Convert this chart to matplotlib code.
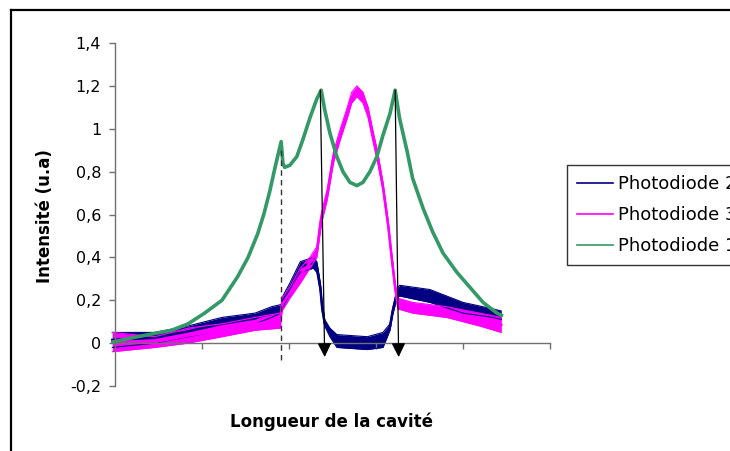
import numpy as np
import matplotlib
matplotlib.use("Agg")
import matplotlib.pyplot as plt
from matplotlib.lines import Line2D

plt.rcParams["font.family"] = ["DejaVu Sans"]

# Photodiode 1 (green) - thin trace, center values
pd1_x = [-3, 26, 65, 84, 103, 123, 141, 153, 164, 171, 178, 184, 191, 193, 195, 201,
         209, 216, 224, 232, 237, 241, 247, 255, 262, 270, 278, 285, 293, 301, 308,
         316, 322, 327, 336, 342, 354, 365, 377, 393, 408, 423, 439, 444]
pd1_y = [0.005, 0.03, 0.06, 0.09, 0.14, 0.20, 0.31, 0.40, 0.51, 0.60, 0.71, 0.82, 0.94,
         0.84, 0.82, 0.83, 0.87, 0.95, 1.05, 1.14, 1.18, 1.09, 0.98, 0.87, 0.80, 0.75,
         0.735, 0.75, 0.80, 0.87, 0.97, 1.07, 1.18, 1.05, 0.89, 0.77, 0.63, 0.52, 0.42,
         0.33, 0.26, 0.19, 0.14, 0.13]

# Photodiode 2 (navy) - noisy band, low / high envelope
pd2_x = [-3, 46, 84, 123, 161, 180, 191, 193, 201, 213, 228, 232, 236, 238, 241, 247,
         255, 290, 308, 316, 319, 324, 327, 362, 400, 434, 444]
pd2_lo = [-0.02, 0.0, 0.03, 0.06, 0.09, 0.12, 0.14, 0.17, 0.23, 0.33, 0.35, 0.33, 0.24,
          0.15, 0.08, 0.03, -0.02, -0.03, -0.02, 0.06, 0.13, 0.21, 0.22, 0.19, 0.14, 0.12, 0.11]
pd2_hi = [0.05, 0.05, 0.08, 0.12, 0.14, 0.17, 0.18, 0.22, 0.28, 0.38, 0.40, 0.38, 0.28,
          0.19, 0.11, 0.07, 0.04, 0.03, 0.05, 0.09, 0.16, 0.25, 0.27, 0.25, 0.19, 0.16, 0.15]

# Photodiode 3 (magenta) - noisy band, low / high envelope
pd3_x = [-3, 46, 84, 123, 161, 190, 192, 201, 213, 224, 232, 236, 238, 244, 251, 259,
         267, 272, 278, 285, 291, 296, 302, 308, 314, 318, 322, 325, 342, 381, 419, 444]
pd3_lo = [-0.04, -0.02, 0.0, 0.03, 0.06, 0.07, 0.15, 0.21, 0.28, 0.35, 0.40, 0.52, 0.57,
          0.67, 0.84, 0.95, 1.05, 1.12, 1.15, 1.12, 1.05, 0.95, 0.84, 0.71, 0.53, 0.38,
          0.24, 0.16, 0.14, 0.12, 0.08, 0.05]
pd3_hi = [0.05, 0.03, 0.07, 0.09, 0.12, 0.14, 0.21, 0.26, 0.35, 0.40, 0.45, 0.58, 0.62,
          0.72, 0.89, 1.00, 1.10, 1.17, 1.20, 1.17, 1.10, 1.00, 0.89, 0.75, 0.57, 0.42,
          0.28, 0.21, 0.19, 0.17, 0.14, 0.12]

y_ticks = [-0.2, 0, 0.2, 0.4, 0.6, 0.8, 1, 1.2, 1.4]
y_tick_labels = ["-0,2", "0", "0,2", "0,4", "0,6", "0,8", "1", "1,2", "1,4"]
x_ticks = [0, 100, 200, 300, 400, 500]

# annotation lines: dashed marker and two arrows (start -> tip)
dash_x, dash_top, dash_bottom = 191, 0.90, -0.08
arrows = [((236, 1.18), (241, -0.065)), ((322, 1.18), (326, -0.065))]

NAVY = "#000080"
MAGENTA = "#FF00FF"
GREEN = "#339966"

fig = plt.figure(figsize=(7.30, 4.51), dpi=100)
ax = fig.add_axes([0.1515, 0.1441, 0.602, 0.7605])

def band(x, lo, hi, color, label):
    x = np.array(x)
    lo = np.array(lo)
    hi = np.array(hi)
    ax.fill_between(x, lo, hi, color=color, lw=0)
    ax.plot(x, lo, color=color, lw=0.8)
    ax.plot(x, hi, color=color, lw=0.8)
    ax.plot(x, (lo + hi) / 2, color=color, lw=1.8, label=label)

band(pd2_x, pd2_lo, pd2_hi, NAVY, "Photodiode 2")
band(pd3_x, pd3_lo, pd3_hi, MAGENTA, "Photodiode 3")
ax.plot(pd1_x, pd1_y, color=GREEN, lw=2.6, label="Photodiode 1")

# dashed marker line
ax.plot([dash_x, dash_x], [dash_bottom, dash_top], color="#333333", lw=1, ls=(0, (4, 3)))
for start, tip in arrows:
    ax.annotate("", xy=tip, xytext=start,
                arrowprops=dict(arrowstyle="-|>,head_length=0.85,head_width=0.42",
                                color="black", lw=0.9, shrinkA=0, shrinkB=0,
                                mutation_scale=10))

ax.set_xlim(-5, 500)
ax.set_ylim(-0.2, 1.4)
ax.spines["top"].set_visible(False)
ax.spines["right"].set_visible(False)
ax.spines["left"].set_position(("data", 0))
ax.spines["bottom"].set_position(("data", 0))
ax.spines["bottom"].set_bounds(0, 500)
for s in ("left", "bottom"):
    ax.spines[s].set_color("#707070")
    ax.spines[s].set_linewidth(1.0)

ax.set_yticks(y_ticks)
ax.set_yticklabels(y_tick_labels)
ax.set_xticks(x_ticks)
ax.set_xticklabels([])
ax.tick_params(axis="y", direction="out", length=4, width=1, color="#707070",
               labelsize=11.5, pad=6)
ax.tick_params(axis="x", direction="out", length=4, width=1, color="#707070")

fig.text(0.062, 0.521, "Intensité (u.a)", rotation=90, ha="center", va="center",
         fontsize=12, fontweight="bold")
fig.text(0.454, 0.065, "Longueur de la cavité", ha="center", va="center",
         fontsize=12, fontweight="bold")

# legend sits partly outside the image on the right, as in the original chart
leg = fig.legend(loc="upper left", bbox_to_anchor=(0.7767, 0.6341), frameon=True,
                 fancybox=False, edgecolor="black", fontsize=13, handlelength=2.0,
                 handletextpad=0.3, borderpad=0.55, labelspacing=0.72, borderaxespad=0)
leg.get_frame().set_linewidth(1.0)
for line in leg.get_lines():
    line.set_linewidth(1.2)

# outer chart border: only the left and top edges fall inside the image
bx, by = 11 / 730, 1 - 10 / 451
fig.add_artist(Line2D([bx, bx], [-0.1, by], transform=fig.transFigure, color="black", lw=1.6))
fig.add_artist(Line2D([bx, 1.1], [by, by], transform=fig.transFigure, color="black", lw=1.6))

fig.savefig("out.png", dpi=100)
